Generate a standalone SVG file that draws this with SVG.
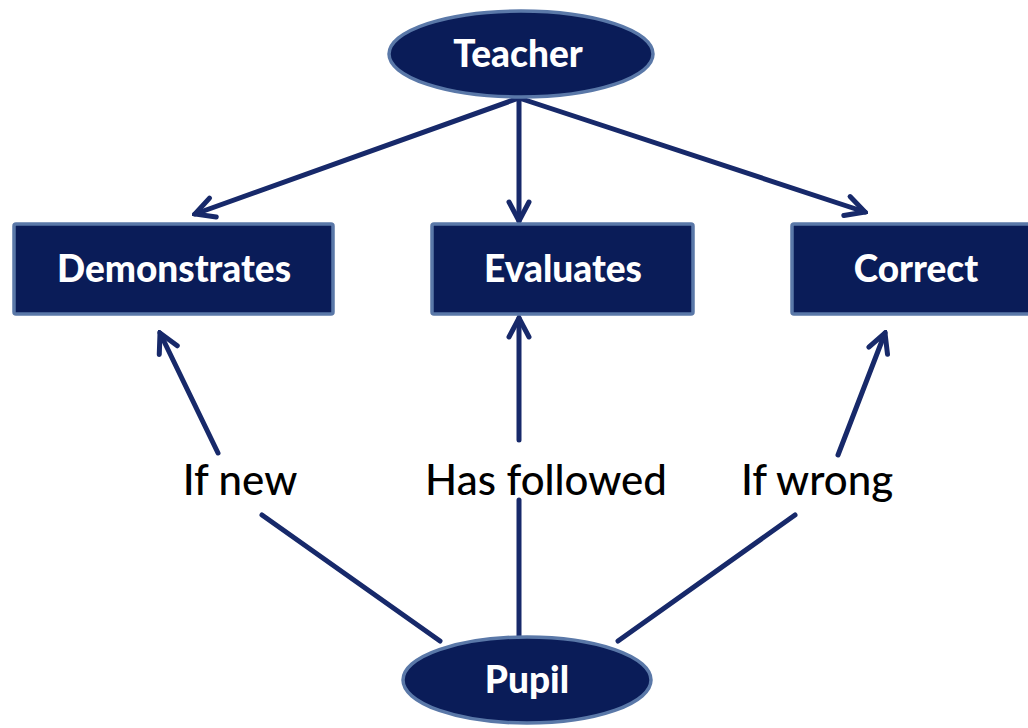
<svg xmlns="http://www.w3.org/2000/svg" width="1028" height="728" viewBox="0 0 1028 728">
<style>
.node{fill:#0a1c58;stroke:#5a78a8;stroke-width:3.5}
.nt{fill:#ffffff;font-family:Lato,"Liberation Sans",sans-serif;font-weight:900;font-size:37px;text-anchor:middle}
.lbl{fill:#000000;font-family:Lato,"Liberation Sans",sans-serif;font-weight:500;font-size:42px;text-anchor:middle}
.con{stroke:#17296a;stroke-width:5;fill:none;stroke-linecap:round}
</style>
<defs>
<marker id="arrow" viewBox="0 0 26 26" refX="23" refY="13" markerWidth="26" markerHeight="26" orient="auto" markerUnits="userSpaceOnUse">
<path d="M4,3 L23,13 L4,23" fill="none" stroke="#17296a" stroke-width="5" stroke-linejoin="miter" stroke-linecap="round"/>
</marker>
</defs>
<rect width="1028" height="728" fill="#ffffff"/>
<g id="connectors">
<line class="con" x1="519" y1="98" x2="195" y2="214" marker-end="url(#arrow)"/>
<line class="con" x1="519" y1="98" x2="519" y2="221" marker-end="url(#arrow)"/>
<line class="con" x1="519" y1="98" x2="865" y2="212" marker-end="url(#arrow)"/>
<line class="con" x1="440" y1="641" x2="262" y2="515"/>
<line class="con" x1="218" y1="453" x2="160" y2="333" marker-end="url(#arrow)"/>
<line class="con" x1="519" y1="637" x2="519" y2="500"/>
<line class="con" x1="519" y1="440" x2="519" y2="318" marker-end="url(#arrow)"/>
<line class="con" x1="618" y1="641" x2="795" y2="515"/>
<line class="con" x1="838" y1="455" x2="885" y2="333" marker-end="url(#arrow)"/>
<text class="lbl" x="240" y="495">If new</text>
<text class="lbl" x="546" y="495">Has followed</text>
<text class="lbl" x="817" y="495">If wrong</text>
</g>
<g id="teacher">
<ellipse class="node" cx="521" cy="54" rx="132" ry="43"/>
<text class="nt" x="518" y="67">Teacher</text>
</g>
<g id="demonstrates">
<rect class="node" x="14" y="224" width="319" height="90" rx="2"/>
<text class="nt" x="174" y="282">Demonstrates</text>
</g>
<g id="evaluates">
<rect class="node" x="432" y="224" width="261" height="90" rx="2"/>
<text class="nt" x="563" y="282">Evaluates</text>
</g>
<g id="correct">
<rect class="node" x="792" y="224" width="240" height="90" rx="2"/>
<text class="nt" x="916" y="282">Correct</text>
</g>
<g id="pupil">
<ellipse class="node" cx="527" cy="680" rx="124" ry="43"/>
<text class="nt" x="527" y="693">Pupil</text>
</g>
</svg>
